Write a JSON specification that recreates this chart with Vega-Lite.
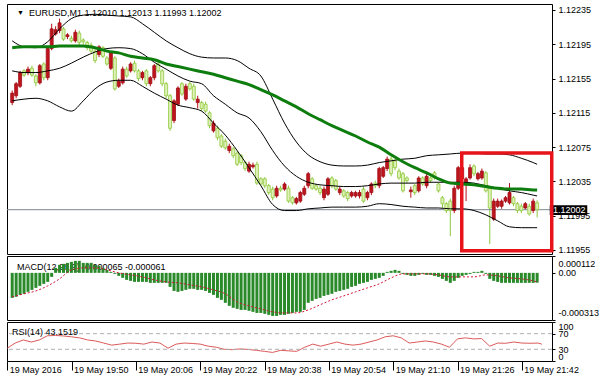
{
"$schema": "https://vega.github.io/schema/vega-lite/v6.json",
"background": "#ffffff",
"padding": {"left": 4, "top": 3, "right": 0, "bottom": 0},
"autosize": {"type": "pad"},
"spacing": 2,
"bounds": "flush",
"config": {
  "view": {"stroke": "#000000", "strokeWidth": 1},
  "axis": {"labelFont": "Liberation Sans", "labelFontSize": 9, "labelColor": "#000000", "tickColor": "#000000", "domain": false, "grid": false, "labelOverlap": false},
  "text": {"font": "Liberation Sans", "fontSize": 9, "color": "#000000"}
},
"datasets": {
"bars": [
{"m":34,"o":1.12127,"h":1.12141,"l":1.12124,"c":1.12138,"macd":-0.000166},
{"m":35,"o":1.12135,"h":1.12151,"l":1.12132,"c":1.12149,"macd":-0.000159},
{"m":36,"o":1.12146,"h":1.12164,"l":1.12144,"c":1.12162,"macd":-0.000146},
{"m":37,"o":1.12164,"h":1.12166,"l":1.12157,"c":1.12159,"macd":-0.000139},
{"m":38,"o":1.12162,"h":1.12169,"l":1.12159,"c":1.12166,"macd":-0.000126},
{"m":39,"o":1.12167,"h":1.12170,"l":1.12157,"c":1.12159,"macd":-0.000113},
{"m":40,"o":1.12158,"h":1.12160,"l":1.12146,"c":1.12150,"macd":-0.0000996},
{"m":41,"o":1.12150,"h":1.12172,"l":1.12148,"c":1.12170,"macd":-0.0000863},
{"m":42,"o":1.12172,"h":1.12174,"l":1.12153,"c":1.12156,"macd":-0.000073},
{"m":43,"o":1.12156,"h":1.12193,"l":1.12153,"c":1.12190,"macd":-0.0000598},
{"m":44,"o":1.12190,"h":1.12219,"l":1.12188,"c":1.12213,"macd":-0.0000266},
{"m":45,"o":1.12207,"h":1.12216,"l":1.12205,"c":1.12212,"macd":0.0000332},
{"m":46,"o":1.12211,"h":1.12225,"l":1.12208,"c":1.12220,"macd":0.0000531},
{"m":47,"o":1.12213,"h":1.12215,"l":1.12199,"c":1.12201,"macd":0.0000598},
{"m":48,"o":1.12204,"h":1.12208,"l":1.12201,"c":1.12206,"macd":0.0000664},
{"m":49,"o":1.12202,"h":1.12205,"l":1.12197,"c":1.12199,"macd":0.000073},
{"m":50,"o":1.12199,"h":1.12212,"l":1.12197,"c":1.12209,"macd":0.0000797},
{"m":51,"o":1.12208,"h":1.12211,"l":1.12194,"c":1.12197,"macd":0.0000797},
{"m":52,"o":1.12200,"h":1.12202,"l":1.12195,"c":1.12198,"macd":0.0000664},
{"m":53,"o":1.12197,"h":1.12199,"l":1.12188,"c":1.12191,"macd":0.0000664},
{"m":54,"o":1.12194,"h":1.12197,"l":1.12185,"c":1.12187,"macd":0.0000664},
{"m":55,"o":1.12187,"h":1.12190,"l":1.12173,"c":1.12176,"macd":0.0000531},
{"m":56,"o":1.12183,"h":1.12194,"l":1.12180,"c":1.12192,"macd":0.0000465},
{"m":57,"o":1.12191,"h":1.12193,"l":1.12179,"c":1.12181,"macd":0.0000332},
{"m":58,"o":1.12179,"h":1.12181,"l":1.12170,"c":1.12172,"macd":0.0000199},
{"m":59,"o":1.12167,"h":1.12187,"l":1.12165,"c":1.12185,"macd":0.0000066},
{"m":60,"o":1.12179,"h":1.12181,"l":1.12141,"c":1.12143,"macd":-0.0000066},
{"m":61,"o":1.12146,"h":1.12155,"l":1.12144,"c":1.12152,"macd":-0.0000199},
{"m":62,"o":1.12150,"h":1.12169,"l":1.12148,"c":1.12166,"macd":-0.0000332},
{"m":63,"o":1.12166,"h":1.12169,"l":1.12156,"c":1.12158,"macd":-0.0000465},
{"m":64,"o":1.12164,"h":1.12174,"l":1.12162,"c":1.12172,"macd":-0.0000531},
{"m":65,"o":1.12173,"h":1.12176,"l":1.12162,"c":1.12164,"macd":-0.0000598},
{"m":66,"o":1.12164,"h":1.12166,"l":1.12152,"c":1.12155,"macd":-0.0000598},
{"m":67,"o":1.12156,"h":1.12164,"l":1.12153,"c":1.12162,"macd":-0.0000598},
{"m":68,"o":1.12164,"h":1.12166,"l":1.12146,"c":1.12149,"macd":-0.0000598},
{"m":69,"o":1.12149,"h":1.12158,"l":1.12146,"c":1.12156,"macd":-0.0000664},
{"m":70,"o":1.12156,"h":1.12172,"l":1.12153,"c":1.12170,"macd":-0.0000664},
{"m":71,"o":1.12172,"h":1.12174,"l":1.12162,"c":1.12164,"macd":-0.0000664},
{"m":72,"o":1.12164,"h":1.12166,"l":1.12146,"c":1.12149,"macd":-0.0000664},
{"m":73,"o":1.12149,"h":1.12151,"l":1.12132,"c":1.12135,"macd":-0.0000664},
{"m":74,"o":1.12135,"h":1.12137,"l":1.12094,"c":1.12097,"macd":-0.000093},
{"m":75,"o":1.12106,"h":1.12131,"l":1.12103,"c":1.12129,"macd":-0.00012},
{"m":76,"o":1.12125,"h":1.12146,"l":1.12123,"c":1.12144,"macd":-0.000126},
{"m":77,"o":1.12149,"h":1.12151,"l":1.12135,"c":1.12137,"macd":-0.00012},
{"m":78,"o":1.12131,"h":1.12149,"l":1.12129,"c":1.12146,"macd":-0.000113},
{"m":79,"o":1.12149,"h":1.12151,"l":1.12141,"c":1.12143,"macd":-0.000106},
{"m":80,"o":1.12146,"h":1.12149,"l":1.12129,"c":1.12131,"macd":-0.000106},
{"m":81,"o":1.12127,"h":1.12135,"l":1.12120,"c":1.12131,"macd":-0.000113},
{"m":82,"o":1.12127,"h":1.12129,"l":1.12117,"c":1.12120,"macd":-0.000113},
{"m":83,"o":1.12125,"h":1.12128,"l":1.12115,"c":1.12117,"macd":-0.00012},
{"m":84,"o":1.12115,"h":1.12117,"l":1.12097,"c":1.12100,"macd":-0.000133},
{"m":85,"o":1.12094,"h":1.12106,"l":1.12092,"c":1.12103,"macd":-0.000146},
{"m":86,"o":1.12097,"h":1.12100,"l":1.12083,"c":1.12086,"macd":-0.000166},
{"m":87,"o":1.12088,"h":1.12090,"l":1.12074,"c":1.12076,"macd":-0.000179},
{"m":88,"o":1.12082,"h":1.12085,"l":1.12072,"c":1.12074,"macd":-0.000199},
{"m":89,"o":1.12071,"h":1.12079,"l":1.12068,"c":1.12076,"macd":-0.000219},
{"m":90,"o":1.12073,"h":1.12075,"l":1.12062,"c":1.12065,"macd":-0.000232},
{"m":91,"o":1.12068,"h":1.12071,"l":1.12053,"c":1.12055,"macd":-0.000239},
{"m":92,"o":1.12065,"h":1.12067,"l":1.12054,"c":1.12057,"macd":-0.000246},
{"m":93,"o":1.12057,"h":1.12059,"l":1.12047,"c":1.12050,"macd":-0.000246},
{"m":94,"o":1.12047,"h":1.12058,"l":1.12045,"c":1.12055,"macd":-0.000252},
{"m":95,"o":1.12052,"h":1.12057,"l":1.12050,"c":1.12054,"macd":-0.000259},
{"m":96,"o":1.12055,"h":1.12058,"l":1.12031,"c":1.12033,"macd":-0.000266},
{"m":97,"o":1.12038,"h":1.12040,"l":1.12030,"c":1.12032,"macd":-0.000266},
{"m":98,"o":1.12038,"h":1.12040,"l":1.12027,"c":1.12030,"macd":-0.000272},
{"m":99,"o":1.12030,"h":1.12032,"l":1.12019,"c":1.12022,"macd":-0.000279},
{"m":100,"o":1.12026,"h":1.12029,"l":1.12013,"c":1.12016,"macd":-0.000286},
{"m":101,"o":1.12018,"h":1.12030,"l":1.12016,"c":1.12027,"macd":-0.000286},
{"m":102,"o":1.12027,"h":1.12030,"l":1.12023,"c":1.12025,"macd":-0.000279},
{"m":103,"o":1.12026,"h":1.12034,"l":1.12024,"c":1.12032,"macd":-0.000279},
{"m":104,"o":1.12027,"h":1.12030,"l":1.12010,"c":1.12012,"macd":-0.000272},
{"m":105,"o":1.12016,"h":1.12018,"l":1.12008,"c":1.12010,"macd":-0.000266},
{"m":106,"o":1.12010,"h":1.12017,"l":1.12008,"c":1.12015,"macd":-0.000259},
{"m":107,"o":1.12012,"h":1.12024,"l":1.12010,"c":1.12022,"macd":-0.000259},
{"m":108,"o":1.12020,"h":1.12030,"l":1.12018,"c":1.12027,"macd":-0.000246},
{"m":109,"o":1.12030,"h":1.12046,"l":1.12027,"c":1.12044,"macd":-0.000199},
{"m":110,"o":1.12038,"h":1.12040,"l":1.12025,"c":1.12027,"macd":-0.000186},
{"m":111,"o":1.12030,"h":1.12032,"l":1.12024,"c":1.12026,"macd":-0.000173},
{"m":112,"o":1.12027,"h":1.12030,"l":1.12019,"c":1.12022,"macd":-0.000166},
{"m":113,"o":1.12016,"h":1.12029,"l":1.12013,"c":1.12026,"macd":-0.000153},
{"m":114,"o":1.12020,"h":1.12040,"l":1.12018,"c":1.12038,"macd":-0.000146},
{"m":115,"o":1.12039,"h":1.12041,"l":1.12027,"c":1.12030,"macd":-0.000139},
{"m":116,"o":1.12036,"h":1.12038,"l":1.12024,"c":1.12026,"macd":-0.000126},
{"m":117,"o":1.12022,"h":1.12029,"l":1.12019,"c":1.12026,"macd":-0.00012},
{"m":118,"o":1.12024,"h":1.12026,"l":1.12016,"c":1.12018,"macd":-0.000113},
{"m":119,"o":1.12022,"h":1.12024,"l":1.12012,"c":1.12015,"macd":-0.000106},
{"m":120,"o":1.12018,"h":1.12024,"l":1.12016,"c":1.12022,"macd":-0.000093},
{"m":121,"o":1.12018,"h":1.12024,"l":1.12016,"c":1.12022,"macd":-0.0000863},
{"m":122,"o":1.12018,"h":1.12025,"l":1.12015,"c":1.12022,"macd":-0.000073},
{"m":123,"o":1.12026,"h":1.12029,"l":1.12010,"c":1.12012,"macd":-0.0000664},
{"m":124,"o":1.12016,"h":1.12024,"l":1.12013,"c":1.12022,"macd":-0.0000598},
{"m":125,"o":1.12022,"h":1.12034,"l":1.12019,"c":1.12032,"macd":-0.0000465},
{"m":126,"o":1.12033,"h":1.12036,"l":1.12027,"c":1.12030,"macd":-0.0000398},
{"m":127,"o":1.12030,"h":1.12052,"l":1.12027,"c":1.12050,"macd":-0.0000332},
{"m":128,"o":1.12041,"h":1.12053,"l":1.12039,"c":1.12051,"macd":-0.0000199},
{"m":129,"o":1.12050,"h":1.12064,"l":1.12047,"c":1.12061,"macd":0.0000066},
{"m":130,"o":1.12061,"h":1.12064,"l":1.12041,"c":1.12044,"macd":0.0000133},
{"m":131,"o":1.12059,"h":1.12061,"l":1.12048,"c":1.12051,"macd":0.0000199},
{"m":132,"o":1.12047,"h":1.12050,"l":1.12037,"c":1.12039,"macd":0.0000133},
{"m":133,"o":1.12044,"h":1.12046,"l":1.12022,"c":1.12024,"macd":-0.0000066},
{"m":134,"o":1.12039,"h":1.12041,"l":1.12033,"c":1.12036,"macd":-0.0000133},
{"m":135,"o":1.12023,"h":1.12029,"l":1.12016,"c":1.12025,"macd":-0.0000199},
{"m":136,"o":1.12030,"h":1.12032,"l":1.12019,"c":1.12022,"macd":-0.0000199},
{"m":137,"o":1.12024,"h":1.12041,"l":1.12022,"c":1.12039,"macd":-0.0000133},
{"m":138,"o":1.12039,"h":1.12041,"l":1.12030,"c":1.12032,"macd":-0.0000066},
{"m":139,"o":1.12030,"h":1.12044,"l":1.12027,"c":1.12041,"macd":-0.0000133},
{"m":140,"o":1.12039,"h":1.12041,"l":1.12033,"c":1.12036,"macd":-0.0000133},
{"m":141,"o":1.12045,"h":1.12047,"l":1.12037,"c":1.12039,"macd":-0.0000199},
{"m":142,"o":1.12032,"h":1.12034,"l":1.12022,"c":1.12024,"macd":-0.0000266},
{"m":143,"o":1.12016,"h":1.12018,"l":1.12004,"c":1.12009,"macd":-0.0000398},
{"m":144,"o":1.12009,"h":1.12011,"l":1.11998,"c":1.12001,"macd":-0.0000531},
{"m":145,"o":1.12012,"h":1.12015,"l":1.11971,"c":1.12001,"macd":-0.0000664},
{"m":146,"o":1.12001,"h":1.12030,"l":1.11998,"c":1.12027,"macd":-0.0000531},
{"m":147,"o":1.12027,"h":1.12053,"l":1.12025,"c":1.12051,"macd":-0.0000332},
{"m":148,"o":1.12038,"h":1.12053,"l":1.12036,"c":1.12051,"macd":-0.0000199},
{"m":149,"o":1.12033,"h":1.12040,"l":1.12012,"c":1.12038,"macd":-0.0000133},
{"m":150,"o":1.12039,"h":1.12055,"l":1.12037,"c":1.12051,"macd":-0.0000066},
{"m":151,"o":1.12053,"h":1.12055,"l":1.12041,"c":1.12044,"macd":0.0000066},
{"m":152,"o":1.12038,"h":1.12046,"l":1.12036,"c":1.12044,"macd":0.0000066},
{"m":153,"o":1.12039,"h":1.12050,"l":1.12037,"c":1.12047,"macd":0.0000133},
{"m":154,"o":1.12045,"h":1.12047,"l":1.12022,"c":1.12024,"macd":-0.0000066},
{"m":155,"o":1.12027,"h":1.12030,"l":1.11962,"c":1.12004,"macd":-0.0000398},
{"m":156,"o":1.11991,"h":1.12015,"l":1.11989,"c":1.12012,"macd":-0.0000531},
{"m":157,"o":1.12006,"h":1.12015,"l":1.12004,"c":1.12012,"macd":-0.0000598},
{"m":158,"o":1.12006,"h":1.12014,"l":1.12003,"c":1.12012,"macd":-0.0000664},
{"m":159,"o":1.12012,"h":1.12018,"l":1.12010,"c":1.12016,"macd":-0.0000664},
{"m":160,"o":1.12010,"h":1.12033,"l":1.12008,"c":1.12022,"macd":-0.0000664},
{"m":161,"o":1.12016,"h":1.12018,"l":1.12006,"c":1.12009,"macd":-0.0000664},
{"m":162,"o":1.12009,"h":1.12011,"l":1.11998,"c":1.12001,"macd":-0.0000664},
{"m":163,"o":1.12006,"h":1.12009,"l":1.11998,"c":1.12001,"macd":-0.0000664},
{"m":164,"o":1.12004,"h":1.12011,"l":1.12002,"c":1.12009,"macd":-0.0000664},
{"m":165,"o":1.12006,"h":1.12009,"l":1.11995,"c":1.11997,"macd":-0.0000664},
{"m":166,"o":1.12001,"h":1.12015,"l":1.11998,"c":1.12012,"macd":-0.0000664},
{"m":167,"o":1.12010,"h":1.12013,"l":1.11993,"c":1.12002,"macd":-0.000065}
],
"bands": [
{"m":34,"up":1.12199,"mid":1.12164,"lo":1.12129,"ma":1.12191,"sig":-0.000159},
{"m":37,"up":1.12192,"mid":1.12162,"lo":1.12131,"ma":1.12192,"sig":-0.000139},
{"m":40,"up":1.12191,"mid":1.12162,"lo":1.12132,"ma":1.12192,"sig":-0.00012},
{"m":43,"up":1.12198,"mid":1.12164,"lo":1.12129,"ma":1.12192,"sig":-0.0000863},
{"m":46,"up":1.12213,"mid":1.12167,"lo":1.12122,"ma":1.12193,"sig":-0.0000398},
{"m":49,"up":1.12225,"mid":1.12173,"lo":1.12117,"ma":1.12193,"sig":0.0000199},
{"m":52,"up":1.12229,"mid":1.12180,"lo":1.12129,"ma":1.12193,"sig":0.0000332},
{"m":55,"up":1.12230,"mid":1.12186,"lo":1.12143,"ma":1.12191,"sig":0.0000332},
{"m":58,"up":1.12229,"mid":1.12190,"lo":1.12151,"ma":1.12187,"sig":0.0000199},
{"m":61,"up":1.12228,"mid":1.12191,"lo":1.12153,"ma":1.12185,"sig":0},
{"m":64,"up":1.12227,"mid":1.12190,"lo":1.12153,"ma":1.12181,"sig":-0.0000133},
{"m":67,"up":1.12219,"mid":1.12184,"lo":1.12146,"ma":1.12179,"sig":-0.0000266},
{"m":70,"up":1.12209,"mid":1.12174,"lo":1.12138,"ma":1.12177,"sig":-0.0000465},
{"m":73,"up":1.12199,"mid":1.12166,"lo":1.12131,"ma":1.12172,"sig":-0.0000598},
{"m":76,"up":1.12191,"mid":1.12158,"lo":1.12124,"ma":1.12169,"sig":-0.0000664},
{"m":79,"up":1.12184,"mid":1.12152,"lo":1.12121,"ma":1.12166,"sig":-0.0000797},
{"m":82,"up":1.12180,"mid":1.12149,"lo":1.12117,"ma":1.12163,"sig":-0.000093},
{"m":85,"up":1.12179,"mid":1.12135,"lo":1.12103,"ma":1.12160,"sig":-0.000113},
{"m":88,"up":1.12179,"mid":1.12125,"lo":1.12089,"ma":1.12156,"sig":-0.000139},
{"m":91,"up":1.12176,"mid":1.12115,"lo":1.12071,"ma":1.12152,"sig":-0.000193},
{"m":94,"up":1.12167,"mid":1.12109,"lo":1.12051,"ma":1.12148,"sig":-0.000219},
{"m":97,"up":1.12158,"mid":1.12093,"lo":1.12030,"ma":1.12142,"sig":-0.000239},
{"m":100,"up":1.12131,"mid":1.12071,"lo":1.12008,"ma":1.12136,"sig":-0.000259},
{"m":103,"up":1.12103,"mid":1.12053,"lo":1.12001,"ma":1.12129,"sig":-0.000266},
{"m":106,"up":1.12081,"mid":1.12041,"lo":1.12001,"ma":1.12122,"sig":-0.000266},
{"m":109,"up":1.12066,"mid":1.12034,"lo":1.12003,"ma":1.12114,"sig":-0.000246},
{"m":112,"up":1.12058,"mid":1.12031,"lo":1.12004,"ma":1.12107,"sig":-0.000212},
{"m":115,"up":1.12054,"mid":1.12030,"lo":1.12005,"ma":1.12100,"sig":-0.000179},
{"m":118,"up":1.12053,"mid":1.12029,"lo":1.12005,"ma":1.12094,"sig":-0.000153},
{"m":121,"up":1.12053,"mid":1.12029,"lo":1.12005,"ma":1.12088,"sig":-0.000126},
{"m":124,"up":1.12054,"mid":1.12030,"lo":1.12006,"ma":1.12081,"sig":-0.0000996},
{"m":127,"up":1.12057,"mid":1.12032,"lo":1.12009,"ma":1.12075,"sig":-0.000073},
{"m":130,"up":1.12059,"mid":1.12033,"lo":1.12008,"ma":1.12066,"sig":-0.0000332},
{"m":133,"up":1.12061,"mid":1.12033,"lo":1.12006,"ma":1.12058,"sig":-0.0000066},
{"m":136,"up":1.12062,"mid":1.12033,"lo":1.12005,"ma":1.12051,"sig":-0.0000066},
{"m":139,"up":1.12065,"mid":1.12034,"lo":1.12004,"ma":1.12045,"sig":-0.0000066},
{"m":142,"up":1.12066,"mid":1.12034,"lo":1.12004,"ma":1.12038,"sig":-0.0000133},
{"m":145,"up":1.12067,"mid":1.12034,"lo":1.12003,"ma":1.12033,"sig":-0.0000266},
{"m":148,"up":1.12068,"mid":1.12034,"lo":1.12003,"ma":1.12032,"sig":-0.0000266},
{"m":151,"up":1.12068,"mid":1.12033,"lo":1.12001,"ma":1.12031,"sig":-0.0000266},
{"m":154,"up":1.12067,"mid":1.12030,"lo":1.11996,"ma":1.12029,"sig":-0.0000133},
{"m":157,"up":1.12067,"mid":1.12027,"lo":1.11989,"ma":1.12027,"sig":-0.0000199},
{"m":160,"up":1.12066,"mid":1.12024,"lo":1.11982,"ma":1.12026,"sig":-0.0000332},
{"m":163,"up":1.12062,"mid":1.12022,"lo":1.11981,"ma":1.12026,"sig":-0.0000398},
{"m":166,"up":1.12057,"mid":1.12019,"lo":1.11981,"ma":1.12025,"sig":-0.0000531},
{"m":167,"up":1.12055,"mid":1.12018,"lo":1.11981,"ma":1.12025,"sig":-0.000061}
],
"rsi": [
{"m":34,"rsi":32.7},{"m":36,"rsi":46},{"m":38,"rsi":54},{"m":40,"rsi":48.7},{"m":42,"rsi":54},{"m":44,"rsi":64.7},{"m":46,"rsi":65.5},{"m":48,"rsi":64.2},{"m":50,"rsi":62},{"m":52,"rsi":59.3},{"m":54,"rsi":54},{"m":56,"rsi":51.3},{"m":58,"rsi":46},{"m":60,"rsi":40.7},{"m":62,"rsi":43.3},{"m":64,"rsi":46},{"m":66,"rsi":45.5},{"m":68,"rsi":43.3},{"m":70,"rsi":48.7},{"m":72,"rsi":46},{"m":74,"rsi":32.7},{"m":76,"rsi":43.3},{"m":78,"rsi":46},{"m":80,"rsi":45},{"m":82,"rsi":43.3},{"m":84,"rsi":38},{"m":86,"rsi":35.3},{"m":88,"rsi":30},{"m":90,"rsi":29},{"m":92,"rsi":31},{"m":94,"rsi":29.5},{"m":96,"rsi":27.3},{"m":98,"rsi":24.7},{"m":100,"rsi":22},{"m":102,"rsi":27.3},{"m":104,"rsi":26},{"m":106,"rsi":24.7},{"m":108,"rsi":35.3},{"m":110,"rsi":43.3},{"m":112,"rsi":38},{"m":114,"rsi":43.3},{"m":116,"rsi":48.7},{"m":118,"rsi":43.3},{"m":120,"rsi":40.7},{"m":122,"rsi":43.3},{"m":124,"rsi":48.7},{"m":126,"rsi":54},{"m":128,"rsi":62},{"m":130,"rsi":64.7},{"m":132,"rsi":59.3},{"m":134,"rsi":46},{"m":136,"rsi":48.7},{"m":138,"rsi":51.3},{"m":140,"rsi":48.7},{"m":142,"rsi":43.3},{"m":144,"rsi":35.3},{"m":146,"rsi":56.7},{"m":148,"rsi":59.3},{"m":150,"rsi":56.7},{"m":152,"rsi":57.5},{"m":154,"rsi":38},{"m":156,"rsi":46},{"m":158,"rsi":45.5},{"m":160,"rsi":48.7},{"m":162,"rsi":46},{"m":164,"rsi":45.5},{"m":166,"rsi":46},{"m":167,"rsi":43.15}
]
},
"vconcat": [
{
  "width": 545, "height": 250,
  "data": {"name": "bars"},
  "layer": [
    {
      "mark": {"type": "rule", "strokeWidth": 1},
      "encoding": {
        "x": {"field": "m", "type": "quantitative", "scale": {"domain": [33.95, 169.5], "nice": false, "zero": false}, "axis": null},
        "y": {"field": "l", "type": "quantitative", "title": null,
              "scale": {"domain": [1.119503, 1.12242], "nice": false, "zero": false},
              "axis": {"orient": "right", "values": [1.12235, 1.12195, 1.12155, 1.12115, 1.12075, 1.12035, 1.11995, 1.11955], "tickCount": 50, "format": ".5f", "tickSize": 3, "labelPadding": 3, "labelOverlap": false, "title": null}},
        "y2": {"field": "h"},
        "color": {"condition": {"test": "datum.c > datum.o", "value": "#b5121b"}, "value": "#8cc63f"}
      }
    },
    {
      "data": {"values": [{}]},
      "mark": {"type": "rule", "color": "#7a8794", "strokeWidth": 1},
      "encoding": {"y": {"datum": 1.12002, "type": "quantitative", "axis": {"orient": "right", "title": null, "labelOverlap": false}}}
    },
    {
      "mark": {"type": "bar", "width": 3, "strokeWidth": 0.8},
      "encoding": {
        "x": {"field": "m", "type": "quantitative", "axis": null},
        "y": {"field": "o", "type": "quantitative", "axis": {"orient": "right", "title": null, "labelOverlap": false}},
        "y2": {"field": "c"},
        "fill": {"condition": {"test": "datum.c > datum.o", "value": "#c0141c"}, "value": "#dff1b8"},
        "stroke": {"condition": {"test": "datum.c > datum.o", "value": "#9e0e16"}, "value": "#8fc93a"}
      }
    },
    {
      "data": {"name": "bands"},
      "mark": {"type": "line", "color": "#000000", "strokeWidth": 1, "interpolate": "monotone"},
      "encoding": {"x": {"field": "m", "type": "quantitative", "axis": null}, "y": {"field": "up", "type": "quantitative", "axis": {"orient": "right", "title": null, "labelOverlap": false}}}
    },
    {
      "data": {"name": "bands"},
      "mark": {"type": "line", "color": "#000000", "strokeWidth": 1, "interpolate": "monotone"},
      "encoding": {"x": {"field": "m", "type": "quantitative", "axis": null}, "y": {"field": "mid", "type": "quantitative", "axis": {"orient": "right", "title": null, "labelOverlap": false}}}
    },
    {
      "data": {"name": "bands"},
      "mark": {"type": "line", "color": "#000000", "strokeWidth": 1, "interpolate": "monotone"},
      "encoding": {"x": {"field": "m", "type": "quantitative", "axis": null}, "y": {"field": "lo", "type": "quantitative", "axis": {"orient": "right", "title": null, "labelOverlap": false}}}
    },
    {
      "data": {"name": "bands"},
      "mark": {"type": "line", "color": "#0d7d0d", "strokeWidth": 3, "interpolate": "monotone"},
      "encoding": {"x": {"field": "m", "type": "quantitative", "axis": null}, "y": {"field": "ma", "type": "quantitative", "axis": {"orient": "right", "title": null, "labelOverlap": false}}}
    },
    {
      "data": {"values": [{}]},
      "mark": {"type": "rect", "fill": "#000000"},
      "encoding": {
        "x": {"datum": 170.2, "type": "quantitative", "axis": null}, "x2": {"datum": 179.7},
        "y": {"datum": 1.119958, "type": "quantitative", "axis": {"orient": "right", "title": null, "labelOverlap": false}}, "y2": {"datum": 1.120072}
      }
    },
    {
      "data": {"values": [{}]},
      "mark": {"type": "text", "align": "left", "baseline": "middle", "color": "#ffffff", "fontSize": 9},
      "encoding": {
        "x": {"datum": 171.0, "type": "quantitative", "axis": null},
        "y": {"datum": 1.12002, "type": "quantitative", "axis": {"orient": "right", "title": null, "labelOverlap": false}},
        "text": {"value": "1.12002"}
      }
    },
    {
      "data": {"values": [{}]},
      "mark": {"type": "rect", "fillOpacity": 0, "stroke": "#e8141c", "strokeWidth": 3.5},
      "encoding": {
        "x": {"datum": 147.9, "type": "quantitative", "axis": null}, "x2": {"datum": 170.7},
        "y": {"datum": 1.11954, "type": "quantitative", "axis": {"orient": "right", "title": null, "labelOverlap": false}}, "y2": {"datum": 1.120682}
      }
    },
    {
      "data": {"values": [{}]},
      "mark": {"type": "text", "align": "center", "baseline": "middle", "dx": 8.5, "dy": 9, "fontSize": 7},
      "encoding": {
        "x": {"datum": 33.95, "type": "quantitative", "axis": null},
        "y": {"datum": 1.12242, "type": "quantitative", "axis": {"orient": "right", "title": null, "labelOverlap": false}},
        "text": {"value": "▼"}
      }
    },
    {
      "data": {"values": [{}]},
      "mark": {"type": "text", "align": "left", "baseline": "middle", "dx": 17, "dy": 9, "fontSize": 9},
      "encoding": {
        "x": {"datum": 33.95, "type": "quantitative", "axis": null},
        "y": {"datum": 1.12242, "type": "quantitative", "axis": {"orient": "right", "title": null, "labelOverlap": false}},
        "text": {"value": "EURUSD,M1  1.12010 1.12013 1.11993 1.12002"}
      }
    }
  ]
},
{
  "width": 545, "height": 64,
  "data": {"name": "bars"},
  "layer": [
    {
      "mark": {"type": "bar", "width": 3, "color": "#2a8a2a", "opacity": 0},
      "encoding": {
        "x": {"field": "m", "type": "quantitative", "scale": {"domain": [33.95, 169.5], "nice": false, "zero": false}, "axis": null},
        "y": {"field": "macd", "type": "quantitative", "title": null,
              "scale": {"domain": [-0.000313, 0.000112], "nice": false, "zero": false},
              "axis": {"orient": "right", "values": [0.000112, 0, -0.000313], "tickCount": 50, "labelExpr": "datum.value > 0.0001 ? '0.000112' : (datum.value < -0.0003 ? '-0.000313' : '0.00')", "tickSize": 3, "labelPadding": 3, "labelFlush": true, "labelFlushOffset": -3, "labelOverlap": false, "title": null}}
      }
    },
    {
      "data": {"values": [{}]},
      "mark": {"type": "text", "align": "left", "baseline": "middle", "dx": 5, "dy": 10.5, "fontSize": 9},
      "encoding": {
        "x": {"datum": 33.95, "type": "quantitative", "axis": null},
        "y": {"datum": 0.000112, "type": "quantitative", "axis": {"orient": "right", "title": null, "labelOverlap": false}},
        "text": {"value": "MACD(12,26,9) -0.000065 -0.000061"}
      }
    },
    {
      "mark": {"type": "bar", "width": 3, "color": "#2a8a2a"},
      "encoding": {
        "x": {"field": "m", "type": "quantitative", "axis": null},
        "y": {"field": "macd", "type": "quantitative", "axis": {"orient": "right", "title": null, "labelOverlap": false}}
      }
    },
    {
      "data": {"name": "bands"},
      "mark": {"type": "line", "color": "#d4143a", "strokeWidth": 1, "strokeDash": [2, 2], "interpolate": "monotone"},
      "encoding": {"x": {"field": "m", "type": "quantitative", "axis": null}, "y": {"field": "sig", "type": "quantitative", "axis": {"orient": "right", "title": null, "labelOverlap": false}}}
    }
  ]
},
{
  "width": 545, "height": 39,
  "data": {"name": "rsi"},
  "layer": [
    {
      "mark": {"type": "line", "color": "#dc5a5a", "strokeWidth": 1},
      "encoding": {
        "x": {"field": "m", "type": "quantitative", "title": null,
              "scale": {"domain": [33.95, 169.5], "nice": false, "zero": false},
              "axis": {"orient": "bottom", "values": [34, 50, 66, 82, 98, 114, 130, 146, 162], "tickCount": 50,
                       "labelExpr": "datum.value < 40 ? '19 May 2016' : '19 May ' + floor(datum.value / 60 + 19) + ':' + ((datum.value % 60) < 10 ? '0' : '') + (datum.value % 60)",
                       "labelAlign": "left", "labelOffset": 2, "labelFlush": false, "labelOverlap": false, "labelBound": false,
                       "tickSize": 9, "labelPadding": -5, "title": null}},
        "y": {"field": "rsi", "type": "quantitative", "title": null,
              "scale": {"domain": [0, 100], "nice": false, "zero": false},
              "axis": {"orient": "right", "values": [100, 70, 30, 0], "tickCount": 50, "tickSize": 3, "labelPadding": 3, "labelFlush": true, "labelOverlap": false, "title": null}}
      }
    },
    {
      "data": {"values": [{"level": 70}, {"level": 30}]},
      "mark": {"type": "rule", "color": "#b0b0b0", "strokeWidth": 1, "strokeDash": [4, 3]},
      "encoding": {"y": {"field": "level", "type": "quantitative", "axis": {"orient": "right", "title": null, "labelOverlap": false}}}
    },
    {
      "data": {"values": [{}]},
      "mark": {"type": "text", "align": "left", "baseline": "middle", "dx": 5, "dy": 10, "fontSize": 9},
      "encoding": {
        "x": {"datum": 33.95, "type": "quantitative", "axis": {"orient": "bottom", "title": null, "labelOverlap": false}},
        "y": {"datum": 100, "type": "quantitative", "axis": {"orient": "right", "title": null, "labelOverlap": false}},
        "text": {"value": "RSI(14) 43.1519"}
      }
    }
  ]
}
]
}
